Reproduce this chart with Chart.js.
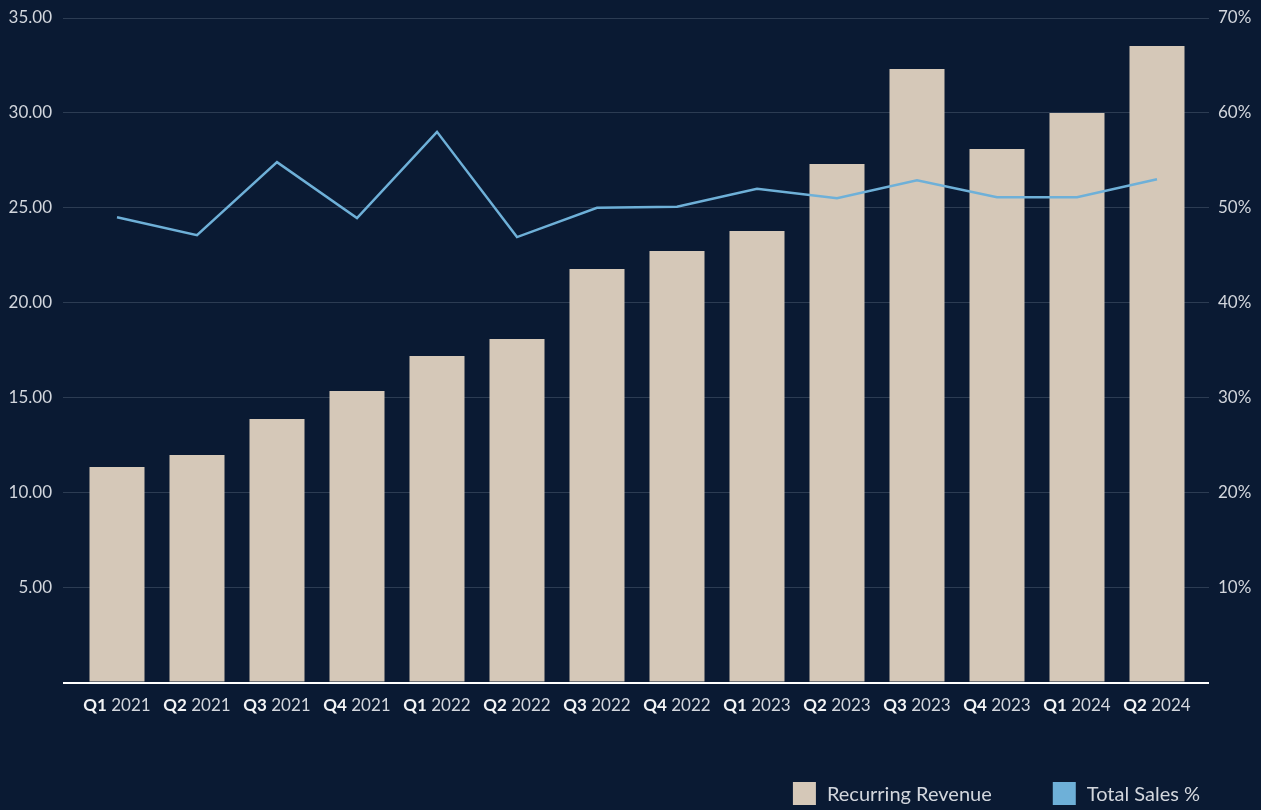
<!DOCTYPE html>
<html>
<head>
<meta charset="utf-8">
<script src="https://cdn.jsdelivr.net/npm/chart.js@4"></script>
<style>
html,body{margin:0;padding:0;background:#0a1a33;overflow:hidden;}
#wrap{width:1261px;height:810px;position:relative;}
</style>
</head>
<body>
<div id="wrap"><canvas id="c" width="1261" height="810"></canvas></div>
<script>
const quarters = ['Q1','Q2','Q3','Q4','Q1','Q2','Q3','Q4','Q1','Q2','Q3','Q4','Q1','Q2'];
const years = ['2021','2021','2021','2021','2022','2022','2022','2022','2023','2023','2023','2023','2024','2024'];
const recurringRevenue = [11.33, 11.97, 13.86, 15.34, 17.18, 18.08, 21.77, 22.72, 23.77, 27.30, 32.31, 28.09, 29.99, 33.52];
const totalSalesPct = [49.0, 47.1, 54.8, 48.9, 58.0, 46.9, 50.0, 50.1, 52.0, 51.0, 52.9, 51.1, 51.1, 53.0];
const seriesNames = ['Recurring Revenue', 'Total Sales %'];

const BG = '#0a1a33';
const BAR = '#d5c8b8';
const LINE = '#6eb0d8';
const GRID = '#2c3c53';
const TEXT = '#d2d6dd';
const FONT = 'Lato, "Open Sans", sans-serif';

const labels = quarters.map((q, i) => q + ' ' + years[i]);

const bgPlugin = {
  id: 'bg',
  beforeDraw(chart) {
    const c = chart.ctx;
    c.save();
    c.fillStyle = BG;
    c.fillRect(0, 0, chart.width, chart.height);
    c.restore();
  }
};

const baselinePlugin = {
  id: 'baseline',
  afterDatasetsDraw(chart) {
    const c = chart.ctx;
    const y = chart.scales.y.getPixelForValue(0);
    const ya = chart.chartArea;
    c.save();
    c.strokeStyle = '#ffffff';
    c.lineWidth = 2;
    c.beginPath();
    c.moveTo(ya.left - 14, y + 1);
    c.lineTo(ya.right + 12, y + 1);
    c.stroke();
    c.restore();
  }
};

const xLabelPlugin = {
  id: 'xlabels',
  afterDraw(chart) {
    const c = chart.ctx;
    const xs = chart.scales.x;
    const y = xs.top + 24;
    c.save();
    c.textBaseline = 'middle';
    c.textAlign = 'left';
    labels.forEach((_, i) => {
      const x = xs.getPixelForValue(i);
      c.font = '700 17px ' + FONT;
      const wq = c.measureText(quarters[i]).width;
      c.font = '400 17px ' + FONT;
      const ws = c.measureText(' ').width;
      const wy = c.measureText(years[i]).width;
      const start = x - (wq + ws + wy) / 2;
      c.fillStyle = '#f2f3f5';
      c.font = '700 17px ' + FONT;
      c.fillText(quarters[i], start, y);
      c.fillStyle = TEXT;
      c.font = '400 17px ' + FONT;
      c.fillText(years[i], start + wq + ws, y);
    });
    c.restore();
  }
};

const legendPlugin = {
  id: 'customLegend',
  afterDraw(chart) {
    const c = chart.ctx;
    const colors = [BAR, LINE];
    const box = 23, gapText = 11, gapItem = 61;
    const yTop = 782;
    c.save();
    c.font = '400 20px ' + FONT;
    c.textBaseline = 'middle';
    c.textAlign = 'left';
    let right = 1200;
    for (let i = seriesNames.length - 1; i >= 0; i--) {
      const w = c.measureText(seriesNames[i]).width;
      const tx = right - w;
      const bx = tx - gapText - box;
      c.fillStyle = colors[i];
      c.fillRect(bx, yTop, box, box);
      c.fillStyle = TEXT;
      c.fillText(seriesNames[i], tx, yTop + box / 2 + 1);
      right = bx - gapItem;
    }
    c.restore();
  }
};

const gridColor = ctx => (ctx.tick && ctx.tick.value === 0) ? 'rgba(0,0,0,0)' : GRID;

new Chart(document.getElementById('c'), {
  type: 'bar',
  data: {
    labels: labels,
    datasets: [
      {
        type: 'line',
        label: seriesNames[1],
        data: totalSalesPct,
        yAxisID: 'y1',
        borderColor: LINE,
        backgroundColor: LINE,
        borderWidth: 2.5,
        pointRadius: 0,
        pointHoverRadius: 0,
        tension: 0,
        order: 1
      },
      {
        type: 'bar',
        label: seriesNames[0],
        data: recurringRevenue,
        yAxisID: 'y',
        backgroundColor: BAR,
        borderWidth: 0,
        categoryPercentage: 1,
        barPercentage: 0.6875,
        order: 2
      }
    ]
  },
  options: {
    responsive: false,
    animation: false,
    devicePixelRatio: 1,
    layout: { padding: { top: 18, bottom: 88, left: 0, right: 0 } },
    plugins: {
      legend: { display: false },
      tooltip: { enabled: false }
    },
    scales: {
      x: {
        grid: { display: false },
        border: { display: false },
        ticks: { display: false },
        afterFit: s => { s.height = 40; }
      },
      y: {
        position: 'left',
        min: 0,
        max: 35,
        ticks: {
          stepSize: 5,
          padding: 11,
          color: TEXT,
          font: { family: FONT, size: 17 },
          callback: v => v === 0 ? '' : Number(v).toFixed(2)
        },
        grid: { color: gridColor, lineWidth: 1, tickLength: 14, drawTicks: true },
        border: { display: false },
        afterFit: s => { s.width = 77; s.paddingTop = 0; s.paddingBottom = 0; }
      },
      y1: {
        position: 'right',
        min: 0,
        max: 70,
        ticks: {
          stepSize: 10,
          padding: 9,
          color: TEXT,
          font: { family: FONT, size: 17 },
          callback: v => v === 0 ? '' : v + '%'
        },
        grid: { color: gridColor, lineWidth: 1, tickLength: 12, drawTicks: true, drawOnChartArea: false },
        border: { display: false },
        afterFit: s => { s.width = 64; s.paddingTop = 0; s.paddingBottom = 0; }
      }
    }
  },
  plugins: [bgPlugin, baselinePlugin, xLabelPlugin, legendPlugin]
});
</script>
</body>
</html>
